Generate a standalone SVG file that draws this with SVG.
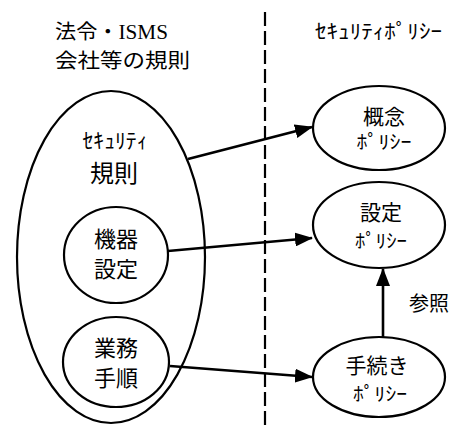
<svg xmlns="http://www.w3.org/2000/svg" width="455" height="427" viewBox="0 0 455 427">
<style>
.sh{fill:none;stroke:#000;stroke-width:2.2}
.t{font-family:"Noto Sans CJK JP","Noto Sans",sans-serif;fill:#000;text-anchor:middle}
.ti{font-family:"Noto Sans CJK JP","Noto Sans",sans-serif;fill:#000}
.c{stroke:#000;stroke-width:2.6;fill:none}
</style>
<defs>
<marker id="ah" markerUnits="userSpaceOnUse" markerWidth="18" markerHeight="14" refX="17" refY="7" orient="auto">
<path d="M0,0 L18,7 L0,14 Z" fill="#000"/>
</marker>
</defs>
<rect width="455" height="427" fill="#fff"/>
<line x1="265" y1="12" x2="265" y2="427" stroke="#000" stroke-width="2.2" stroke-dasharray="14 5"/>
<g id="title-left">
<text class="ti" x="55" y="39" font-size="20" textLength="113" lengthAdjust="spacingAndGlyphs">法令・<tspan font-family="Liberation Serif,serif">ISMS</tspan></text>
<text class="ti" x="55" y="68" font-size="20" textLength="135" lengthAdjust="spacingAndGlyphs">会社等の規則</text>
</g>
<g id="title-right">
<text class="ti" x="315" y="39" font-size="20" textLength="127" lengthAdjust="spacingAndGlyphs">ｾｷｭﾘﾃｨﾎﾟﾘｼｰ</text>
</g>
<g id="security-rules">
<ellipse class="sh" cx="111" cy="257" rx="94" ry="166"/>
<text class="t" x="115" y="148" font-size="21" textLength="65" lengthAdjust="spacingAndGlyphs">ｾｷｭﾘﾃｨ</text>
<text class="t" x="114" y="182" font-size="24">規則</text>
</g>
<g id="device-settings">
<ellipse class="sh" cx="116" cy="255" rx="52" ry="48"/>
<text class="t" x="116" y="247" font-size="22">機器</text>
<text class="t" x="116" y="277" font-size="22">設定</text>
</g>
<g id="business-procedures">
<ellipse class="sh" cx="116" cy="362" rx="53" ry="45"/>
<text class="t" x="116" y="356" font-size="22">業務</text>
<text class="t" x="116" y="386" font-size="22">手順</text>
</g>
<g id="concept-policy">
<ellipse class="sh" cx="379" cy="128" rx="66" ry="42"/>
<text class="t" x="384" y="124" font-size="21">概念</text>
<text class="t" x="384" y="149" font-size="19" textLength="55" lengthAdjust="spacingAndGlyphs">ﾎﾟﾘｼｰ</text>
</g>
<g id="setting-policy">
<ellipse class="sh" cx="379" cy="225" rx="66" ry="43"/>
<text class="t" x="381" y="220" font-size="21">設定</text>
<text class="t" x="381" y="248" font-size="19" textLength="52" lengthAdjust="spacingAndGlyphs">ﾎﾟﾘｼｰ</text>
</g>
<g id="procedure-policy">
<ellipse class="sh" cx="379" cy="377" rx="66" ry="40"/>
<text class="t" x="377" y="373" font-size="21">手続き</text>
<text class="t" x="380" y="401" font-size="19" textLength="54" lengthAdjust="spacingAndGlyphs">ﾎﾟﾘｼｰ</text>
</g>
<g id="connectors">
<line class="c" x1="188" y1="159" x2="312" y2="127" marker-end="url(#ah)"/>
<line class="c" x1="168" y1="251" x2="312" y2="238" marker-end="url(#ah)"/>
<line class="c" x1="170" y1="366" x2="312" y2="377" marker-end="url(#ah)"/>
<line class="c" x1="383" y1="337" x2="383" y2="269" marker-end="url(#ah)"/>
<text class="ti" x="409" y="311" font-size="20">参照</text>
</g>
</svg>
